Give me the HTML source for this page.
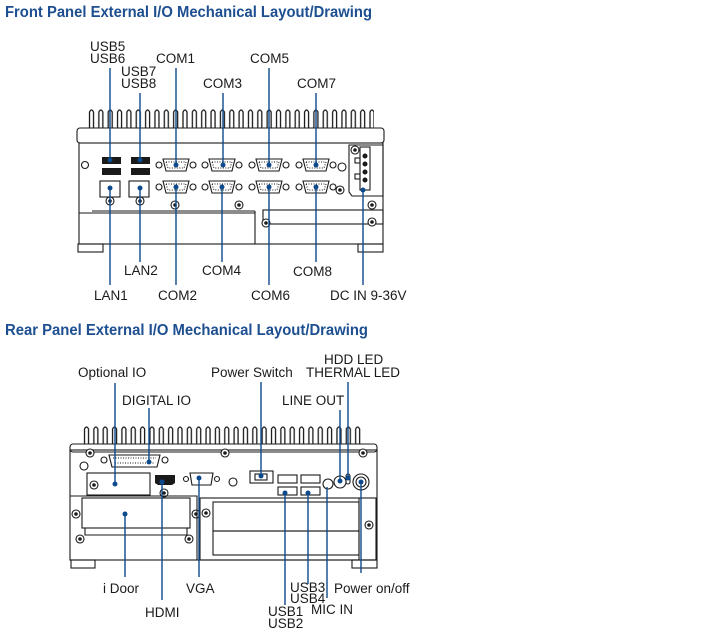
<!DOCTYPE html>
<html><head><meta charset="utf-8"><style>
html,body{margin:0;padding:0;background:#fff;width:706px;height:638px;overflow:hidden}
svg{display:block}
.t{font-family:"Liberation Sans",Arial,sans-serif;font-weight:bold;font-size:16px;fill:#1d4f91}
.l{font-family:"Liberation Sans",Arial,sans-serif;font-size:13.5px;fill:#1a1a1a}
.k{stroke:#1a1a1a;fill:none;stroke-width:1.1}
.kf{stroke:#1a1a1a;fill:#fff;stroke-width:1.1}
.b{stroke:#0d4a8c;stroke-width:1.4;fill:none}
.d{fill:#0d4a8c}
</style></head><body>
<svg width="706" height="638" viewBox="0 0 706 638" xmlns="http://www.w3.org/2000/svg">
<defs>
<pattern id="fin1" x="88" y="108" width="9.35" height="22" patternUnits="userSpaceOnUse">
<path d="M1.5 22 V4 Q3.5 0 5.5 4 V22" stroke="#1a1a1a" stroke-width="1.3" fill="none"/>
</pattern>
<pattern id="fin2" x="83" y="425" width="9.35" height="21" patternUnits="userSpaceOnUse">
<path d="M1.5 21 V4 Q3.5 0 5.5 4 V21" stroke="#1a1a1a" stroke-width="1.3" fill="none"/>
</pattern>
<g id="db9">
<circle cx="-17" cy="0" r="3" class="kf"/><circle cx="17" cy="0" r="3" class="kf"/>
<path d="M-13 -6 H13 L10 6 H-10 Z" class="kf"/>
<path d="M-10 -3 H10 L8 3 H-8 Z" class="k" stroke-dasharray="1 1.5"/>
</g>
<g id="scr"><circle r="4" class="kf"/><circle r="1.8" fill="#1a1a1a"/></g>
</defs>

<text x="5" y="17" class="t" textLength="367" lengthAdjust="spacingAndGlyphs">Front Panel External I/O Mechanical Layout/Drawing</text>
<text x="5" y="335" class="t" textLength="363" lengthAdjust="spacingAndGlyphs">Rear Panel External I/O Mechanical Layout/Drawing</text>

<!-- FRONT -->
<rect x="88" y="108" width="286" height="22" fill="url(#fin1)"/>
<rect x="77" y="128" width="307" height="15" rx="3" class="kf" stroke-width="1.6"/>
<rect x="79" y="143" width="304" height="101" class="k" stroke-width="1.6"/>
<rect x="78" y="244" width="25" height="8" class="k"/><rect x="358" y="244" width="25" height="8" class="k"/>
<line x1="92" y1="211" x2="255" y2="211" class="k"/>
<line x1="255" y1="211" x2="255" y2="244" class="k"/>
<rect x="263" y="210" width="120" height="14" class="k"/>
<line x1="79" y1="213" x2="255" y2="213" class="k"/>
<circle cx="85" cy="165" r="3.5" class="k"/>
<!-- USB / LAN -->
<rect x="102" y="157" width="19" height="7" fill="#1a1a1a"/><rect x="102" y="168" width="19" height="7" fill="#1a1a1a"/>
<rect x="131" y="157" width="19" height="7" fill="#1a1a1a"/><rect x="131" y="168" width="19" height="7" fill="#1a1a1a"/>
<rect x="100" y="181" width="20" height="16" class="kf" stroke-width="2"/><rect x="129" y="181" width="20" height="16" class="kf" stroke-width="2"/>
<use href="#scr" x="110" y="201"/><use href="#scr" x="140" y="201"/>
<!-- COMs -->
<use href="#db9" x="176" y="165"/><use href="#db9" x="222" y="165"/><use href="#db9" x="269" y="165"/><use href="#db9" x="316" y="165"/>
<use href="#db9" x="176" y="187"/><use href="#db9" x="222" y="187"/><use href="#db9" x="269" y="187"/><use href="#db9" x="316" y="187"/>
<use href="#scr" x="175" y="205"/><use href="#scr" x="239" y="205"/><use href="#scr" x="340" y="190"/>
<circle cx="342" cy="167" r="4" class="k"/>
<use href="#scr" x="266" y="223"/><use href="#scr" x="372" y="222"/><use href="#scr" x="372" y="205"/>
<!-- DC -->
<path d="M349 145 H383 V196 H352 L349 192 Z" class="k"/>
<use href="#scr" x="355" y="150"/>
<rect x="360" y="147" width="10" height="43" class="kf" stroke-width="1.6"/>
<circle cx="365" cy="156" r="2.5" fill="#1a1a1a"/><circle cx="365" cy="164" r="2.5" fill="#1a1a1a"/><circle cx="365" cy="172" r="2.5" fill="#1a1a1a"/><circle cx="365" cy="180" r="2.5" fill="#1a1a1a"/>
<rect x="355" y="158" width="5" height="5" class="k"/><rect x="355" y="174" width="5" height="5" class="k"/>
<!-- front callouts -->
<g class="b">
<path d="M110 68V160M140 93V160M176 68V165M223 93V165M269 68V165M316 93V165"/>
<path d="M110 188V285M140 188V262M176 187V285M222 187V262M269 187V285M316 187V262M363 190V285"/>
</g>
<g class="d">
<circle cx="110" cy="160" r="2.5"/><circle cx="140" cy="160" r="2.5"/><circle cx="176" cy="165" r="2.5"/><circle cx="223" cy="165" r="2.5"/><circle cx="269" cy="165" r="2.5"/><circle cx="316" cy="165" r="2.5"/>
<circle cx="110" cy="188" r="2.5"/><circle cx="140" cy="188" r="2.5"/><circle cx="176" cy="187" r="2.5"/><circle cx="222" cy="187" r="2.5"/><circle cx="269" cy="187" r="2.5"/><circle cx="316" cy="187" r="2.5"/><circle cx="363" cy="190" r="2.5"/>
</g>
<g class="l">
<text x="90" y="51">USB5</text><text x="90" y="63">USB6</text>
<text x="121" y="76">USB7</text><text x="121" y="88">USB8</text>
<text x="156" y="63">COM1</text><text x="203" y="88">COM3</text><text x="250" y="63">COM5</text><text x="297" y="88">COM7</text>
<text x="124" y="275">LAN2</text><text x="202" y="275">COM4</text><text x="293" y="276">COM8</text>
<text x="94" y="300">LAN1</text><text x="158" y="300">COM2</text><text x="251" y="300">COM6</text><text x="330" y="300">DC IN 9-36V</text>
</g>

<!-- REAR -->
<rect x="83" y="425" width="281" height="21" fill="url(#fin2)"/>
<rect x="70" y="444" width="307" height="8" rx="3" class="kf" stroke-width="1.6"/>
<rect x="70" y="450" width="307" height="110" class="k" stroke-width="1.6"/>
<rect x="71" y="560" width="24" height="8" class="k"/><rect x="352" y="560" width="25" height="8" class="k"/>
<use href="#scr" x="90" y="453"/><use href="#scr" x="225" y="453"/><use href="#scr" x="363" y="453"/>
<circle cx="84" cy="466" r="4" class="k"/>
<!-- DB25 -->
<circle cx="104" cy="460" r="3" class="kf"/><circle cx="165" cy="460" r="3" class="kf"/>
<path d="M109 455 H160 L157 467 H112 Z" class="kf"/>
<path d="M113 458 H156 M115 463 H154" class="k" stroke-dasharray="1 1.5"/>
<!-- optional IO -->
<rect x="87" y="473" width="63" height="22" class="k" stroke-width="1.6"/>
<use href="#scr" x="94" y="485"/>
<!-- iDoor -->
<rect x="82" y="498" width="108" height="30" class="k"/>
<path d="M85 528 V535 H187 V528" class="k"/>
<use href="#scr" x="76" y="514"/><use href="#scr" x="196" y="514"/><use href="#scr" x="80" y="539"/><use href="#scr" x="189" y="539"/>
<!-- HDMI -->
<path d="M155 475 H175 V483 L172 485 H158 L155 483 Z" fill="#1a1a1a"/>
<use href="#scr" x="164" y="493"/>
<!-- VGA -->
<circle cx="186" cy="479" r="2.5" class="kf"/><circle cx="217" cy="479" r="2.5" class="kf"/>
<path d="M190 473 H213 L211 485 H192 Z" class="kf" stroke-width="1.6"/>
<circle cx="233" cy="482" r="4" class="k"/>
<!-- power switch -->
<rect x="250" y="471" width="23" height="12" class="kf"/><rect x="255" y="474" width="12" height="6" class="k"/>
<!-- USB -->
<rect x="278" y="475" width="19" height="8" class="k"/><rect x="278" y="487" width="19" height="8" class="kf" stroke-width="1.8"/>
<rect x="301" y="475" width="19" height="8" class="k"/><rect x="301" y="487" width="19" height="8" class="kf" stroke-width="1.8"/>
<!-- audio -->
<circle cx="328" cy="484" r="5" class="kf" stroke-width="1.8"/>
<circle cx="340" cy="482" r="6" class="k"/>
<rect x="346" y="474" width="4" height="10" rx="2" class="k"/>
<circle cx="361" cy="482" r="8" class="k"/><circle cx="361" cy="482" r="5" class="k"/>
<!-- expansion -->
<path d="M70 496 H197 V560" class="k"/>
<rect x="200" y="498" width="176" height="62" class="k"/>
<rect x="213" y="502" width="146" height="29" class="k"/><rect x="213" y="531" width="146" height="24" class="k"/>
<use href="#scr" x="206" y="513"/><use href="#scr" x="369" y="525"/>
<line x1="359" y1="498" x2="359" y2="560" class="k"/>
<!-- rear callouts -->
<g class="b">
<path d="M115 383V484M149 408V462M261 382V476M340 410V482M348 382V478"/>
<path d="M125 514V577M162 482V600M199 478V577M285 493V605M308 493V584M327 487V598M361 482V573"/>
</g>
<g class="d">
<circle cx="115" cy="484" r="2.5"/><circle cx="149" cy="462" r="2.5"/><circle cx="261" cy="476" r="2.5"/><circle cx="340" cy="481" r="2.5"/><circle cx="348" cy="478" r="2.5"/>
<circle cx="125" cy="514" r="2.5"/><circle cx="162" cy="482" r="2.5"/><circle cx="199" cy="478" r="2.5"/><circle cx="285" cy="493" r="2.5"/><circle cx="308" cy="493" r="2.5"/><circle cx="361" cy="482" r="2.5"/>
</g>
<g class="l">
<text x="78" y="377">Optional IO</text><text x="122" y="405">DIGITAL IO</text>
<text x="211" y="377">Power Switch</text>
<text x="324" y="364">HDD LED</text><text x="306" y="377">THERMAL LED</text>
<text x="282" y="405">LINE OUT</text>
<text x="103" y="593">i Door</text><text x="186" y="593">VGA</text><text x="145" y="617">HDMI</text>
<text x="290" y="592">USB3</text><text x="290" y="603">USB4</text>
<text x="334" y="593">Power on/off</text>
<text x="268" y="616">USB1</text><text x="268" y="628">USB2</text>
<text x="311" y="614">MIC IN</text>
</g>
</svg>
</body></html>
